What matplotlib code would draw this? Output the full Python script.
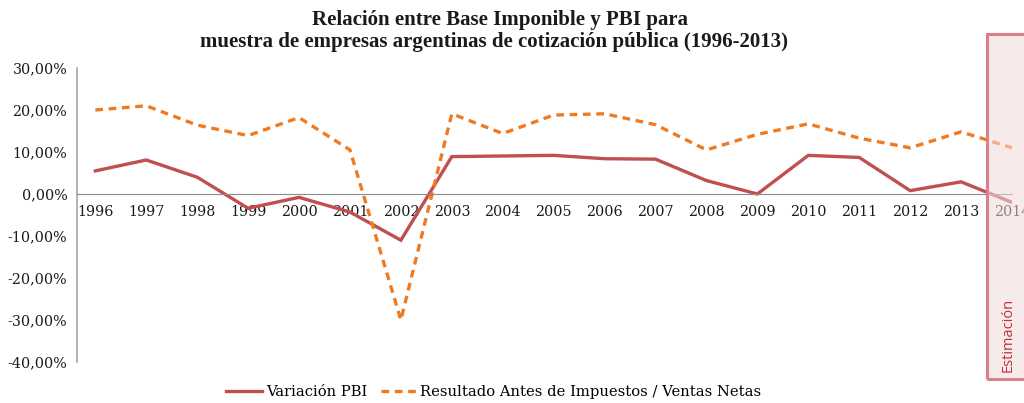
import matplotlib
matplotlib.use("Agg")
import matplotlib.pyplot as plt
from matplotlib.patches import Rectangle
from matplotlib.ticker import FuncFormatter

years = [str(y) for y in range(1996, 2015)]
variacion_pbi = [5.5, 8.1, 4.0, -3.4, -0.8, -4.3, -11.0, 8.9, 9.05, 9.2, 8.4, 8.3,
                 3.2, 0.0, 9.2, 8.7, 0.8, 2.9, -2.0]
resultado = [20.0, 21.0, 16.4, 13.9, 18.2, 10.5, -30.0, 19.1, 14.4, 18.8, 19.1, 16.5,
             10.5, 14.2, 16.7, 13.3, 11.0, 14.8, 11.0]
yticks = [30, 20, 10, 0, -10, -20, -30, -40]

RED = "#C0504D"
ORANGE = "#F07A22"
SERIF = "DejaVu Serif"

fig = plt.figure(figsize=(10.24, 4.03), dpi=100)
ax = fig.add_axes([77/1024, 1-362/403, (1012-77)/1024, (362-68)/403])

x = list(range(len(years)))
ax.plot(x, variacion_pbi, color=RED, lw=2.4, solid_joinstyle="miter", label="Variación PBI")
ax.plot(x, resultado, color=ORANGE, lw=2.4, ls=(0, (2.3, 1.7)),
        label="Resultado Antes de Impuestos / Ventas Netas")

ax.set_xlim(-0.36, 18)
ax.set_ylim(-40, 30)
ax.set_yticks(yticks)
ax.yaxis.set_major_formatter(FuncFormatter(lambda v, p: f"{v:.2f}%".replace(".", ",")))
ax.set_xticks(x)
ax.set_xticklabels(years)

for s in ["top", "right"]:
    ax.spines[s].set_visible(False)
ax.spines["bottom"].set_position(("data", 0))
ax.spines["bottom"].set_color("#8c8c8c")
ax.spines["left"].set_color("#a6a6a6")
ax.spines["left"].set_linewidth(1.2)
ax.tick_params(axis="both", length=0, labelsize=10.3, labelcolor="#1a1a1a")
ax.tick_params(axis="x", pad=8)
ax.tick_params(axis="y", pad=7)
for lab in ax.get_xticklabels() + ax.get_yticklabels():
    lab.set_fontfamily(SERIF)

fig.text(500/1024, 1-20/403, "Relación entre Base Imponible y PBI para", ha="center", va="center",
         fontsize=15, fontweight="bold", family="Liberation Serif", color="#1a1a1a")
fig.text(494/1024, 1-42/403, "muestra de empresas argentinas de cotización pública (1996-2013)", ha="center",
         va="center", fontsize=15, fontweight="bold", family="Liberation Serif", color="#1a1a1a")

leg = fig.legend(loc="center", bbox_to_anchor=(494/1024, 1-392/403), ncol=2, frameon=False,
                 prop={"family": SERIF, "size": 10.6}, handlelength=2.4, columnspacing=0.9,
                 handletextpad=0.3)

rect = Rectangle((987/1024, 1-379/403), 60/1024, (379-34)/403, transform=fig.transFigure,
                 facecolor="#F2D9DC", alpha=0.55, edgecolor="none", zorder=10)
fig.patches.append(rect)
rect2 = Rectangle((987/1024, 1-379/403), 60/1024, (379-34)/403, transform=fig.transFigure,
                  facecolor="none", edgecolor="#D98088", lw=2.2, zorder=11)
fig.patches.append(rect2)
fig.text(1008/1024, 1-372/403, "Estimación", rotation=90, ha="center", va="bottom",
         fontsize=10.5, family="Open Sans", color="#C0303A", zorder=12)

fig.savefig("out.png", dpi=100)
